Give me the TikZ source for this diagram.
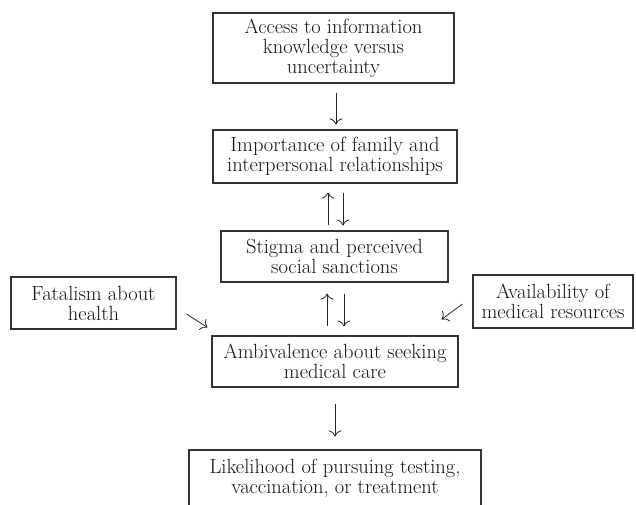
\documentclass[tikz,border=0pt]{standalone}
\usepackage{fontspec}
\usetikzlibrary{arrows.meta}
\begin{document}
\begin{tikzpicture}[x=1pt,y=-1pt,
  box/.style={draw=black!80,line width=1.1pt,align=center,inner sep=1pt,
    text=black!92,font=\fontsize{20.5}{20}\selectfont},
  arr/.style={-{To[length=6pt,width=13pt]},line width=0.8pt,black!85}]
  \useasboundingbox (0,0) rectangle (636,504);

  \node[box,minimum width=241,minimum height=70] (access) at (333.5,48)
    {Access to information\\knowledge versus\\uncertainty};
  \node[box,minimum width=244,minimum height=53] (family) at (335,156.5)
    {Importance of family and\\interpersonal relationships};
  \node[box,minimum width=227,minimum height=51] (stigma) at (334.5,256.5)
    {Stigma and perceived\\social sanctions};
  \node[box,minimum width=246,minimum height=51] (ambiv) at (335,361.5)
    {Ambivalence about seeking\\medical care};
  \node[box,minimum width=292,minimum height=56] (likely) at (335,478)
    {Likelihood of pursuing testing,\\vaccination, or treatment};
  \node[box,minimum width=165,minimum height=52] (fatal) at (93.5,303)
    {Fatalism about\\health};
  \node[box,minimum width=160,minimum height=53] (avail) at (553,301.5)
    {Availability of\\medical resources};

  \draw[arr,shorten <=9pt,shorten >=5pt] ([xshift=2.5]access.south) -- ([xshift=1]family.north);
  % two way links
  \draw[arr,shorten <=5pt,shorten >=9pt] ([xshift=-6.5]stigma.north) -- ([xshift=-7]family.south);
  \draw[arr,shorten <=9pt,shorten >=5pt] ([xshift=8]family.south) -- ([xshift=8.5]stigma.north);
  \draw[arr,shorten <=9pt,shorten >=11pt] ([xshift=-8]ambiv.north) -- ([xshift=-7.5]stigma.south);
  \draw[arr,shorten <=11pt,shorten >=9pt] ([xshift=9.5]stigma.south) -- ([xshift=9]ambiv.north);
  \draw[arr,shorten <=16pt,shorten >=13pt] (ambiv.south) -- (likely.north);
  % side influences
  \draw[arr] ([shift={(10,11)}]fatal.east) -- ([shift={(-4,-8)}]ambiv.north west);
  \draw[arr] ([shift={(-10,2.5)}]avail.west) -- ([shift={(-17,-16)}]ambiv.north east);
\end{tikzpicture}
\end{document}
